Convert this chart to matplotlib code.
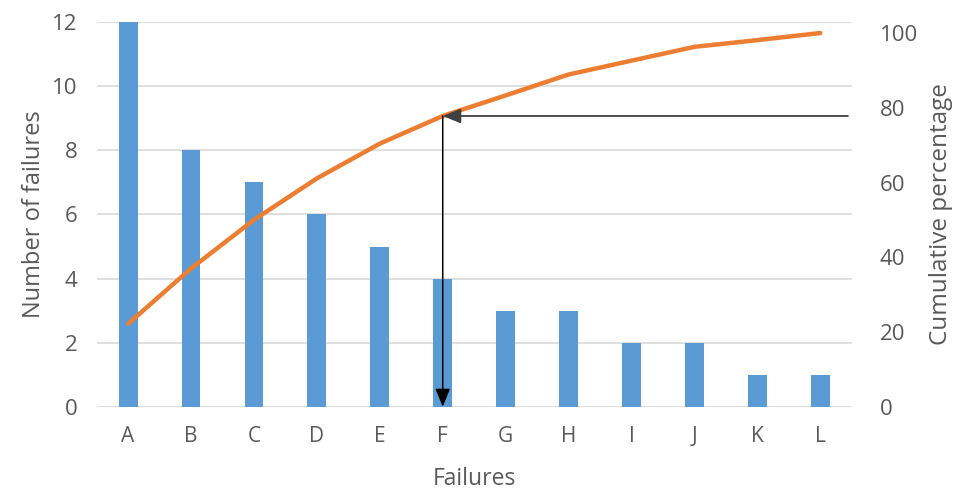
import matplotlib.pyplot as plt
import numpy as np

plt.rcParams["font.family"] = ["Open Sans", "DejaVu Sans"]

categories = ["A", "B", "C", "D", "E", "F", "G", "H", "I", "J", "K", "L"]
failures = [12, 8, 7, 6, 5, 4, 3, 3, 2, 2, 1, 1]
cumulative_pct = [22.2, 37.0, 50.0, 61.1, 70.4, 77.8, 83.3, 88.9, 92.6, 96.3, 98.1, 100.0]
cutoff_index = 5  # category F, first to pass ~78 %

text_color = "#595959"
bar_color = "#5B9BD5"
line_color = "#ED7D31"
grid_color = "#D9D9D9"

fig = plt.figure(figsize=(9.57, 4.93), dpi=100)
ax = fig.add_axes([0.101, 0.175, 0.789, 0.78])
x = np.arange(len(categories))

ax.bar(x, failures, width=0.3, color=bar_color, zorder=2)
ax.set_xlim(-0.5, len(categories) - 0.5)
ax.set_ylim(0, 12)
ax.set_yticks(range(0, 13, 2))
ax.set_xticks(x)
ax.set_xticklabels(categories)
ax.yaxis.grid(True, color=grid_color, linewidth=1.2, zorder=0)
ax.set_axisbelow(True)
for s in ax.spines.values():
    s.set_visible(False)
ax.tick_params(axis="y", length=0, colors=text_color, labelsize=16, pad=14)
ax.tick_params(axis="x", length=0, colors=text_color, labelsize=15, pad=14)
ax.set_xlabel("Failures", color=text_color, fontsize=16.5, labelpad=14)
ax.set_ylabel("Number of failures", color=text_color, fontsize=17, labelpad=4)

ax2 = ax.twinx()
ax2.plot(x, cumulative_pct, color=line_color, linewidth=3.2, solid_capstyle="round", zorder=3)
ax2.set_ylim(0, 102.9)
ax2.set_yticks(range(0, 101, 20))
for s in ax2.spines.values():
    s.set_visible(False)
ax2.tick_params(length=0, colors=text_color, labelsize=16, pad=20)
ax2.set_ylabel("Cumulative percentage", color=text_color, fontsize=17.5, labelpad=8)

# arrows: from the right edge across to the curve, then down to the axis
cut_x = x[cutoff_index]
cut_y = cumulative_pct[cutoff_index]
head = "-|>,head_length=1.1,head_width=0.45"
ax2.annotate("", xy=(cut_x, cut_y), xytext=(len(categories) - 0.56, cut_y),
             arrowprops=dict(arrowstyle=head, color="#404040", linewidth=1.3,
                             shrinkA=0, shrinkB=0),
             zorder=4)
ax2.annotate("", xy=(cut_x, 0), xytext=(cut_x, cut_y),
             arrowprops=dict(arrowstyle=head, color="black", linewidth=1.1,
                             shrinkA=0, shrinkB=0),
             zorder=4)

fig.savefig("out.png", dpi=100)
